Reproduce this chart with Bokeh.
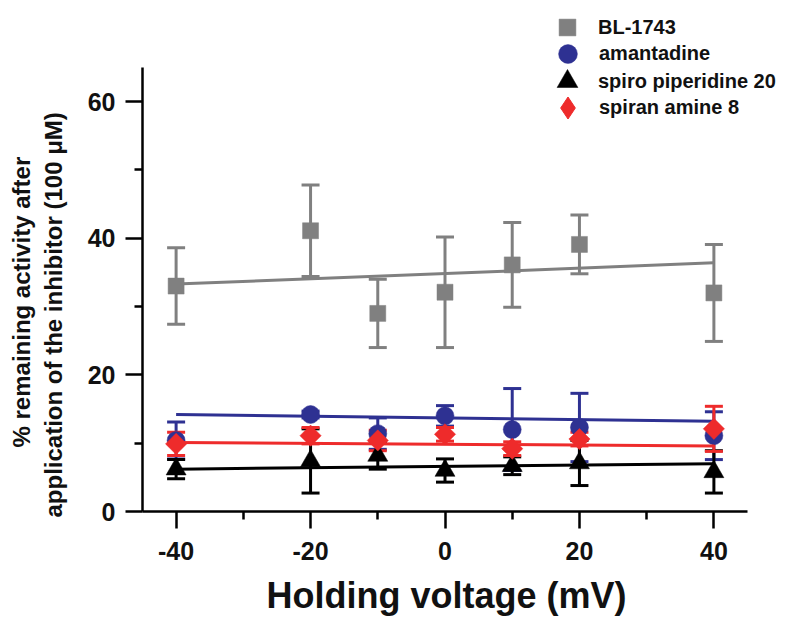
import numpy as np
from bokeh.plotting import figure
from bokeh.models import (ColumnDataSource, Whisker, TeeHead, FixedTicker, Legend, LegendItem,
                          Range1d, Title)
from bokeh.embed import file_html
from bokeh.resources import INLINE

# ---- data ----
voltage = [-40, -20, -10, 0, 10, 20, 40]

bl1743 = [33.0, 41.1, 29.0, 32.1, 36.1, 39.1, 32.0]
bl1743_err = [5.6, 6.7, 5.0, 8.1, 6.2, 4.3, 7.1]

amantadine = [10.4, 14.2, 11.4, 14.0, 12.0, 12.3, 11.1]
amantadine_err = [2.7, 0.5, 2.3, 1.5, 6.0, 5.0, 3.5]

spiro_piperidine = [6.2, 7.4, 8.2, 6.0, 6.7, 7.1, 5.8]
spiro_piperidine_err = [1.4, 4.7, 2.0, 1.7, 1.3, 3.3, 3.1]

spiran_amine = [9.9, 11.1, 10.4, 11.3, 9.2, 10.6, 12.1]
spiran_amine_err = [1.7, 1.2, 1.5, 1.0, 1.0, 1.0, 3.3]

# linear fit lines (end values at -40 and +40 mV)
fit_x = [-40, 40]
bl1743_fit = [33.3, 36.4]
amantadine_fit = [14.2, 13.2]
spiro_piperidine_fit = [6.2, 7.0]
spiran_amine_fit = [10.1, 9.6]

series_names = ["BL-1743", "amantadine", "spiro piperidine 20", "spiran amine 8"]
x_ticks = [-40, -20, 0, 20, 40]
x_tick_labels = ["-40", "-20", "0", "20", "40"]
x_minor = [-30, -10, 10, 30]
y_ticks = [0, 20, 40, 60]
y_minor = [10, 30, 50]

x_title = "Holding voltage (mV)"
y_title_lines = ["% remaining activity after", "application of the inhibitor (100 \u03bcM)"]

FONT = "Liberation Sans"

# layout geometry (pixels)
W, H = 800, 633
FL, FT, FB = 142, 5, 511          # frame edges (frame is enlarged so the legend is not clipped)
AXIS_RIGHT = 747                  # x axis drawn from -45 to 45
FR = 797
X_LO, X_HI = -45, 45
Y_AXIS_TOP = 65                   # y axis drawn from 0 to 65
px_per_x = (AXIS_RIGHT - FL) / (X_HI - X_LO)
px_per_y = (FB - 67) / Y_AXIS_TOP
x_end = X_LO + (FR - FL) / px_per_x
y_end = (FB - FT) / px_per_y

p = figure(width=W, height=H, output_backend="svg", toolbar_location=None,
           x_range=Range1d(X_LO, x_end), y_range=Range1d(0, y_end),
           min_border_left=FL, min_border_right=W - FR, min_border_top=FT,
           min_border_bottom=H - FB)
p.outline_line_color = None
p.xgrid.visible = False
p.ygrid.visible = False
p.background_fill_color = "white"

series = [
    (series_names[0], bl1743, bl1743_err, bl1743_fit, "#808080", "square", 16, 0.0, 42),
    (series_names[1], amantadine, amantadine_err, amantadine_fit, "#2e3192", "circle", 18, 0.0, 47),
    (series_names[2], spiro_piperidine, spiro_piperidine_err, spiro_piperidine_fit, "#000000", "triangle", 20, 0.0, 52),
    (series_names[3], spiran_amine, spiran_amine_err, spiran_amine_fit, "#ee2b2b", "square", 15, np.pi / 4, 55),
]

legend_row_centers = [27, 54, 81, 108]
legend_glyph_cx = 567
legend_text_x = 598

for i, (name, ys, errs, fit, color, marker, size, angle, gsize) in enumerate(series):
    ya = np.array(ys)
    ea = np.array(errs)
    src = ColumnDataSource(data=dict(x=voltage, y=ys, upper=list(ya + ea), lower=list(ya - ea)))
    w = Whisker(base="x", upper="upper", lower="lower", source=src, dimension="height",
                line_color=color, line_width=3,
                upper_head=TeeHead(size=18, line_color=color, line_width=3),
                lower_head=TeeHead(size=18, line_color=color, line_width=3))
    p.add_layout(w)
    p.line(fit_x, fit, line_color=color, line_width=3)
    if angle != 0.0:
        # diamond-shaped key for the legend, hidden under the rotated squares
        leg_r = p.scatter("x", "y", source=src, marker="diamond", size=19,
                          fill_color=color, line_color=color)
    r = p.scatter("x", "y", source=src, marker=marker, size=size, angle=angle,
                  fill_color=color, line_color=color, line_width=0.5)
    if angle == 0.0:
        leg_r = r
    yc = legend_row_centers[i]
    loc = (int(round(legend_glyph_cx - gsize / 2 - FL)), int(round(FB - (yc + gsize / 2))))
    lg = Legend(items=[LegendItem(label=name, renderers=[leg_r])], location=loc,
                glyph_width=gsize, glyph_height=gsize,
                label_standoff=int(round(legend_text_x - (legend_glyph_cx + gsize / 2))),
                padding=0, margin=0, spacing=0,
                border_line_color=None, background_fill_alpha=0,
                label_text_font=FONT, label_text_font_style="bold",
                label_text_font_size="20px", label_text_color="#111111")
    p.add_layout(lg, "center")

# axes
for ax in (p.xaxis[0], p.yaxis[0]):
    ax.axis_line_width = 2.5
    ax.axis_line_color = "black"
    ax.major_tick_line_width = 2.5
    ax.minor_tick_line_width = 2.5
    ax.major_tick_out = 17
    ax.major_tick_in = 0
    ax.minor_tick_out = 8
    ax.minor_tick_in = 0
    ax.major_label_text_font = FONT
    ax.major_label_text_font_style = "bold"
    ax.major_label_text_font_size = "25px"
    ax.major_label_text_color = "#111111"

p.xaxis[0].ticker = FixedTicker(ticks=x_ticks, minor_ticks=x_minor)
p.xaxis[0].major_label_overrides = {t: s for t, s in zip(x_ticks, x_tick_labels)}
p.xaxis[0].bounds = (X_LO, X_HI)
p.xaxis[0].major_label_standoff = 13
p.yaxis[0].ticker = FixedTicker(ticks=y_ticks, minor_ticks=y_minor)
p.yaxis[0].bounds = (0, Y_AXIS_TOP)
p.yaxis[0].major_label_standoff = 10

# axis titles as side-panel titles (positioned along the axis by offset)
xt = Title(text=x_title, align="left", offset=124, standoff=20,
           text_font=FONT, text_font_style="bold", text_font_size="36px", text_color="#111111")
p.add_layout(xt, "below")

yt2 = Title(text=y_title_lines[1], align="left", offset=-6, standoff=36,
            text_font=FONT, text_font_style="bold", text_font_size="24px", text_color="#111111")
yt1 = Title(text=y_title_lines[0], align="left", offset=64, standoff=-30,
            text_font=FONT, text_font_style="bold", text_font_size="24px", text_color="#111111")
p.add_layout(yt2, "left")
p.add_layout(yt1, "left")

open("out.html", "w").write(file_html(p, INLINE))
